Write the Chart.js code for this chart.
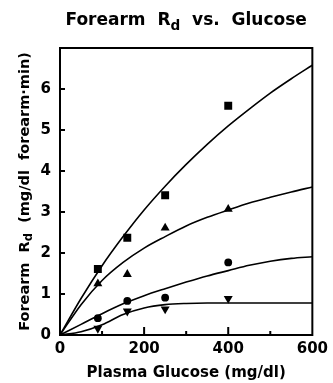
<!DOCTYPE html>
<html>
<head>
<meta charset="utf-8">
<script src="https://cdn.jsdelivr.net/npm/chart.js@4/dist/chart.umd.min.js"></script>
<style>
  body { margin: 0; background: #fff; }
  canvas { display: block; }
</style>
</head>
<body>
<canvas id="rdChart" width="333" height="383"></canvas>
<script>
// measured points (plasma glucose, mg/dl)
const glucoseMeasured = [90, 160, 250, 400];
const rdSquare   = [1.61, 2.37, 3.41, 5.59];
const rdTriangle = [1.25, 1.48, 2.61, 3.07];
const rdCircle   = [0.41, 0.83, 0.91, 1.77];
const rdDown     = [0.16, 0.58, 0.63, 0.89];

// fitted curves
const glucoseCurve = [0, 50, 100, 150, 200, 250, 300, 350, 400, 450, 500, 550, 600];
const fitSquare   = [0, 0.89, 1.69, 2.40, 3.05, 3.63, 4.16, 4.65, 5.10, 5.51, 5.90, 6.25, 6.58];
const fitTriangle = [0, 0.74, 1.33, 1.77, 2.12, 2.40, 2.66, 2.87, 3.05, 3.22, 3.36, 3.49, 3.61];
const fitCircle   = [0, 0.26, 0.52, 0.76, 0.96, 1.13, 1.29, 1.44, 1.57, 1.70, 1.80, 1.87, 1.91];
const fitDown     = [0, 0.08, 0.25, 0.50, 0.66, 0.74, 0.77, 0.78, 0.78, 0.78, 0.78, 0.78, 0.78];

const xTicksMajor = [0, 200, 400, 600];
const xTicksMinor = [100, 300, 500];
const yTicks = [0, 1, 2, 3, 4, 5, 6];

const FONT = 'DejaVu Sans';

const toXY = (xs, ys) => xs.map((x, i) => ({ x: x, y: ys[i] }));

const curve = (ys) => ({
  type: 'line',
  data: toXY(glucoseCurve, ys),
  borderColor: '#000',
  borderWidth: 1.6,
  pointRadius: 0,
  cubicInterpolationMode: 'monotone',
  fill: false
});

const marks = (ys, style, r, rot) => ({
  type: 'scatter',
  data: toXY(glucoseMeasured, ys),
  pointStyle: style,
  pointRadius: r,
  pointRotation: rot || 0,
  backgroundColor: '#000',
  borderColor: '#000',
  borderWidth: 0
});

// draws a string made of pieces, some of them subscripted
function drawPieces(ctx, pieces, cx, cy, size) {
  ctx.textBaseline = 'middle';
  ctx.textAlign = 'left';
  let total = 0;
  pieces.forEach(p => {
    ctx.font = 'bold ' + (p.sub ? size * 0.8 : size) + 'px "' + FONT + '"';
    p.w = ctx.measureText(p.t).width;
    total += p.w;
  });
  let x = cx - total / 2;
  pieces.forEach(p => {
    ctx.font = 'bold ' + (p.sub ? size * 0.8 : size) + 'px "' + FONT + '"';
    ctx.fillText(p.t, x, p.sub ? cy + size * 0.3 : cy);
    x += p.w;
  });
}

const framePlugin = {
  id: 'frame',
  afterDraw(chart) {
    const ctx = chart.ctx;
    const a = chart.chartArea;
    const xs = chart.scales.x, ys = chart.scales.y;
    ctx.save();
    ctx.strokeStyle = '#000';
    ctx.fillStyle = '#000';
    ctx.lineWidth = 2;
    ctx.strokeRect(a.left, a.top, a.right - a.left, a.bottom - a.top);

    // inward ticks
    ctx.beginPath();
    xTicksMajor.concat(xTicksMinor).forEach(v => {
      if (v === 0 || v === 600) return;
      const px = xs.getPixelForValue(v);
      const len = xTicksMajor.includes(v) ? 8 : 4;
      ctx.moveTo(px, a.bottom);
      ctx.lineTo(px, a.bottom - len);
    });
    yTicks.forEach(v => {
      if (v === 0) return;
      const py = ys.getPixelForValue(v);
      ctx.moveTo(a.left, py);
      ctx.lineTo(a.left + 5, py);
    });
    ctx.stroke();

    // title
    drawPieces(ctx, [
      { t: 'Forearm  R' }, { t: 'd', sub: true }, { t: '  vs.  Glucose' }
    ], (a.left + a.right) / 2, 21, 17);

    // y axis title
    ctx.translate(25, (a.top + a.bottom) / 2);
    ctx.rotate(-Math.PI / 2);
    drawPieces(ctx, [
      { t: 'Forearm  R' }, { t: 'd', sub: true }, { t: '  (mg/dl  forearm\u00b7min)' }
    ], 0, 0, 14.5);
    ctx.restore();
  }
};

new Chart(document.getElementById('rdChart'), {
  data: {
    datasets: [
      curve(fitSquare),
      curve(fitTriangle),
      curve(fitCircle),
      curve(fitDown),
      marks(rdSquare, 'rect', 5.6),
      marks(rdTriangle, 'triangle', 5.2),
      marks(rdCircle, 'circle', 3.9),
      marks(rdDown, 'triangle', 5.2, 180)
    ]
  },
  options: {
    responsive: false,
    animation: false,
    devicePixelRatio: 1,
    layout: { padding: { top: 48, right: 18, left: 0, bottom: 0 } },
    plugins: {
      legend: { display: false },
      tooltip: { enabled: false }
    },
    scales: {
      x: {
        type: 'linear',
        min: 0,
        max: 600,
        afterFit: s => { s.height = 48; },
        afterBuildTicks: s => { s.ticks = xTicksMajor.map(v => ({ value: v })); },
        grid: { display: false, drawTicks: false, tickLength: 0 },
        border: { display: false },
        ticks: {
          color: '#000',
          padding: 5,
          maxRotation: 0,
          font: { family: FONT, weight: 'bold', size: 15 }
        },
        title: {
          display: true,
          text: 'Plasma Glucose (mg/dl)',
          color: '#000',
          padding: { top: 0, bottom: 1 },
          font: { family: FONT, weight: 'bold', size: 15 }
        }
      },
      y: {
        type: 'linear',
        min: 0,
        max: 7,
        afterFit: s => { s.width = 60; },
        afterBuildTicks: s => { s.ticks = yTicks.map(v => ({ value: v })); },
        grid: { display: false, drawTicks: false, tickLength: 0 },
        border: { display: false },
        ticks: {
          color: '#000',
          padding: 9,
          font: { family: FONT, weight: 'bold', size: 15 }
        }
      }
    }
  },
  plugins: [framePlugin]
});
</script>
</body>
</html>
